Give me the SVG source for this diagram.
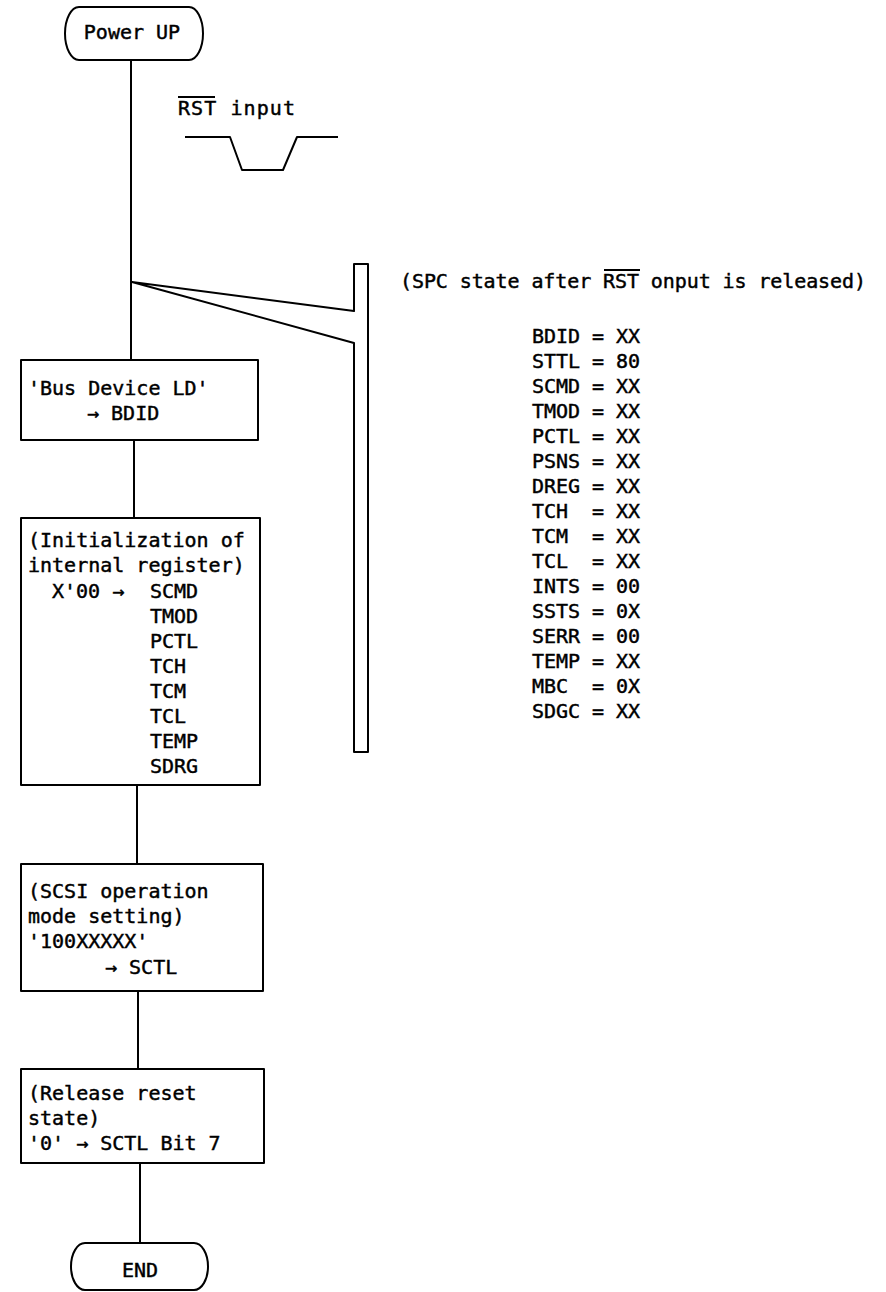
<svg xmlns="http://www.w3.org/2000/svg" width="886" height="1292" viewBox="0 0 886 1292">
<style>
.s{fill:none;stroke:#000;stroke-width:2;stroke-linejoin:round}
.t{font-family:"DejaVu Sans Mono","Liberation Mono",monospace;font-size:20px;fill:#000;stroke:#000;stroke-width:0.45}
.c{text-anchor:middle}
</style>
<rect width="886" height="1292" fill="#fff"/>
<g id="connectors">
<line class="s" x1="131" y1="60" x2="131" y2="360"/>
<line class="s" x1="134" y1="440" x2="134" y2="518"/>
<line class="s" x1="137" y1="785" x2="137" y2="864"/>
<line class="s" x1="138" y1="991" x2="138" y2="1069"/>
<line class="s" x1="140" y1="1163" x2="140" y2="1243"/>
<path class="s" d="M132,282 L354,311 L354,264 L368,264 L368,752 L354,752 L354,343 Z"/>
</g>
<g id="rst-input">
<text class="t" x="178" y="115" textLength="117">RST input</text>
<line class="s" x1="178" y1="97" x2="215" y2="97"/>
<path class="s" d="M185,137 H230 L242,170 H283 L297,137 H338"/>
</g>
<g id="power-up">
<rect class="s" x="65" y="7" width="138" height="53" rx="14" ry="26.5"/>
<text class="t c" x="132" y="39">Power UP</text>
</g>
<g id="box-bdid">
<rect class="s" x="21" y="360" width="237" height="80"/>
<text class="t" x="28" y="395">'Bus Device LD'</text>
<text class="t" x="87" y="420">→ BDID</text>
</g>
<g id="box-init">
<rect class="s" x="21" y="518" width="239" height="267"/>
<text class="t" x="28" y="547">(Initialization of</text>
<text class="t" x="28" y="572">internal register)</text>
<text class="t" y="598"><tspan x="52">X'00 →</tspan><tspan x="150">SCMD</tspan></text>
<text class="t" x="150" y="623">TMOD</text>
<text class="t" x="150" y="648">PCTL</text>
<text class="t" x="150" y="673">TCH</text>
<text class="t" x="150" y="698">TCM</text>
<text class="t" x="150" y="723">TCL</text>
<text class="t" x="150" y="748">TEMP</text>
<text class="t" x="150" y="773">SDRG</text>
</g>
<g id="box-scsi">
<rect class="s" x="21" y="864" width="242" height="127"/>
<text class="t" x="28" y="898">(SCSI operation</text>
<text class="t" x="28" y="923">mode setting)</text>
<text class="t" x="28" y="948">'100XXXXX'</text>
<text class="t" x="105" y="974">→ SCTL</text>
</g>
<g id="box-release">
<rect class="s" x="21" y="1069" width="243" height="94"/>
<text class="t" x="28" y="1100">(Release reset</text>
<text class="t" x="28" y="1125">state)</text>
<text class="t" x="28" y="1150">'0' → SCTL Bit 7</text>
</g>
<g id="end">
<rect class="s" x="71" y="1243" width="137" height="47" rx="14" ry="23.5"/>
<text class="t c" x="140" y="1277">END</text>
</g>
<g id="spc-state">
<text class="t" x="400" y="288" textLength="466">(SPC state after RST onput is released)</text>
<line class="s" x1="604" y1="270" x2="640" y2="270"/>
<g class="t">
<text y="343"><tspan x="532">BDID</tspan><tspan x="592">=</tspan><tspan x="616">XX</tspan></text>
<text y="368"><tspan x="532">STTL</tspan><tspan x="592">=</tspan><tspan x="616">80</tspan></text>
<text y="393"><tspan x="532">SCMD</tspan><tspan x="592">=</tspan><tspan x="616">XX</tspan></text>
<text y="418"><tspan x="532">TMOD</tspan><tspan x="592">=</tspan><tspan x="616">XX</tspan></text>
<text y="443"><tspan x="532">PCTL</tspan><tspan x="592">=</tspan><tspan x="616">XX</tspan></text>
<text y="468"><tspan x="532">PSNS</tspan><tspan x="592">=</tspan><tspan x="616">XX</tspan></text>
<text y="493"><tspan x="532">DREG</tspan><tspan x="592">=</tspan><tspan x="616">XX</tspan></text>
<text y="518"><tspan x="532">TCH</tspan><tspan x="592">=</tspan><tspan x="616">XX</tspan></text>
<text y="543"><tspan x="532">TCM</tspan><tspan x="592">=</tspan><tspan x="616">XX</tspan></text>
<text y="568"><tspan x="532">TCL</tspan><tspan x="592">=</tspan><tspan x="616">XX</tspan></text>
<text y="593"><tspan x="532">INTS</tspan><tspan x="592">=</tspan><tspan x="616">00</tspan></text>
<text y="618"><tspan x="532">SSTS</tspan><tspan x="592">=</tspan><tspan x="616">0X</tspan></text>
<text y="643"><tspan x="532">SERR</tspan><tspan x="592">=</tspan><tspan x="616">00</tspan></text>
<text y="668"><tspan x="532">TEMP</tspan><tspan x="592">=</tspan><tspan x="616">XX</tspan></text>
<text y="693"><tspan x="532">MBC</tspan><tspan x="592">=</tspan><tspan x="616">0X</tspan></text>
<text y="718"><tspan x="532">SDGC</tspan><tspan x="592">=</tspan><tspan x="616">XX</tspan></text>
</g>
</g>
</svg>
